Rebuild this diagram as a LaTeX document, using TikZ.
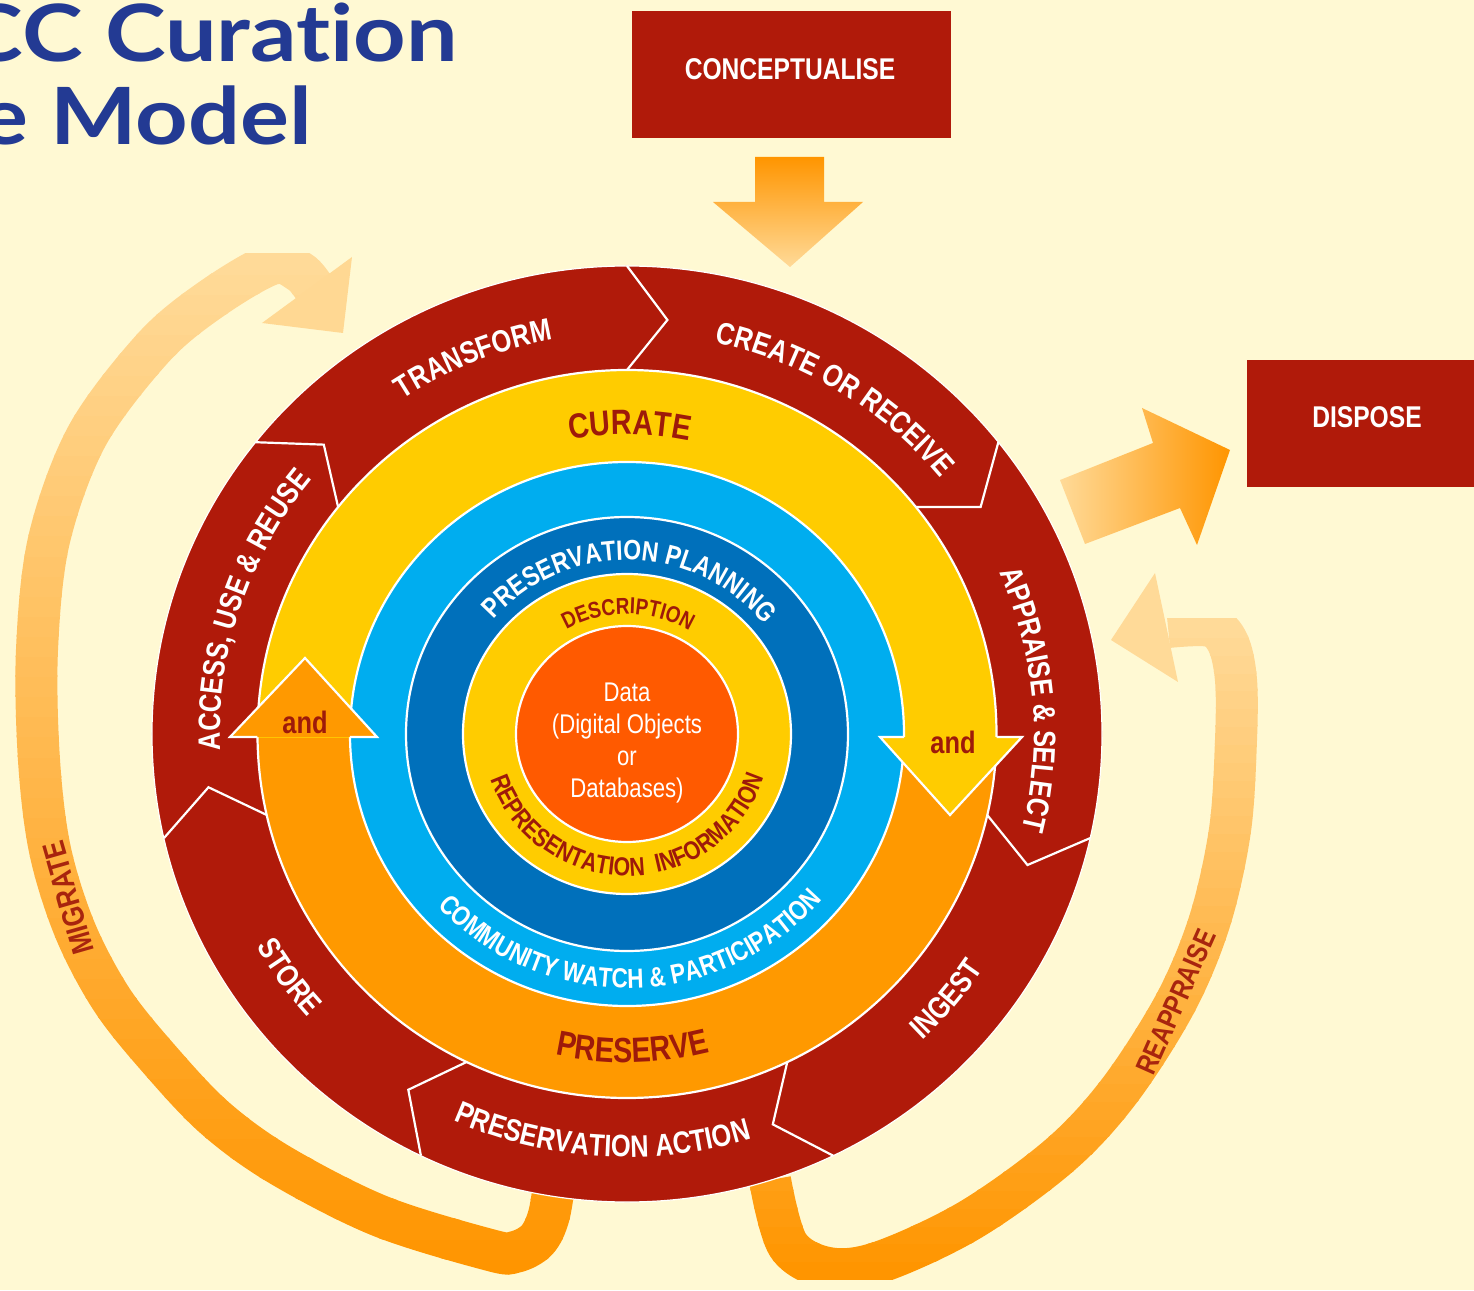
\documentclass[tikz,border=0pt]{standalone}
\usepackage{fontspec}
\newfontfamily\cond{Liberation Sans}[FakeStretch=0.82]
\newfontfamily\titlef{Lato}[FakeStretch=1.16,Ligatures={NoCommon,NoRare}]
\usetikzlibrary{decorations.text}
\definecolor{bg}{HTML}{FFF9D3}
\definecolor{dred}{HTML}{B01A0A}
\definecolor{yel}{HTML}{FFCC00}
\definecolor{org}{HTML}{FF9900}
\definecolor{lblue}{HTML}{00ADEF}
\definecolor{dblue}{HTML}{0070BB}
\definecolor{dataorg}{HTML}{FF5A00}
\definecolor{txtred}{HTML}{9E1A0A}
\definecolor{navy}{HTML}{233A93}
\definecolor{borange}{HTML}{FF9500}
\definecolor{bpale}{HTML}{FFDA98}
\definecolor{bandtxt}{HTML}{A8250E}
\newcommand\lblfont{\cond\bfseries\fontsize{31}{31}\selectfont}
\newcommand\curfont{\cond\bfseries\fontsize{35}{35}\selectfont}
\newcommand\ppfont{\cond\bfseries\fontsize{28}{28}\selectfont}
\newcommand\cwfont{\cond\bfseries\fontsize{27.5}{27.5}\selectfont}
\newcommand\descfont{\cond\bfseries\fontsize{23}{23}\selectfont}
\newcommand\repfont{\cond\bfseries\fontsize{26}{26}\selectfont}
\newcommand\ringtext[7]{%
  \path[decorate,decoration={text along path,text align=center,text color=#2,
    text={|#1|#7}}] (#5:#3 and #4) arc[start angle=#5,end angle=#6,x radius=#3,y radius=#4];}
% vertical-gradient thick band: #1 ymin, #2 ymax, #3 steps, #4 coordinates
\newcommand\gradband[4]{%
  \pgfmathsetmacro\gbstep{((#2)-(#1))/((#3)+1)}%
  \foreach \s in {0,...,#3} {%
    \pgfmathsetmacro\gya{(#1)+\gbstep*\s-0.6}%
    \pgfmathsetmacro\gyb{(#1)+\gbstep*(\s+1)+0.6}%
    \pgfmathsetmacro\gpc{(\s/(#3))*100}%
    \begin{scope}
      \clip (-900,\gya) rectangle (900,\gyb);
      \draw[line width=42, color={bpale!\gpc!borange}] plot[smooth,tension=0.55] coordinates {#4};
    \end{scope}
  }}
\tikzset{
  boxnode/.style={fill=dred, inner sep=0},
  boxtxt/.style={text=white, inner sep=0, font=\cond\bfseries\fontsize{30}{30}\selectfont},
  andtxt/.style={text=txtred, inner sep=0, font=\cond\bfseries\fontsize{31}{31}\selectfont},
  bandlbl/.style={text=bandtxt, inner sep=0},
  wline/.style={draw=white, line width=2.2}
}
\begin{document}
\begin{tikzpicture}[x=1pt,y=1pt]
\useasboundingbox (-627,-556) rectangle (847,734);
\fill[bg] (-627,-556) rectangle (847,734);

% title
\node[anchor=base east, inner sep=0, text=navy, font=\titlef\bfseries\fontsize{79}{79}\selectfont] (title1) at (-169,672) {CC Curation};
\node[anchor=base east, inner sep=0, text=navy, font=\titlef\bfseries\fontsize{79}{79}\selectfont] (title2) at (-315,589) {e Model};

% boxes
\node[boxnode, minimum width=319, minimum height=127] (concept) at (164.5,659.5) {};
\node[boxtxt] (concepttxt) at (163,665) {CONCEPTUALISE};
\node[boxnode, minimum width=240, minimum height=127] (dispose) at (740,310.5) {};
\node[boxtxt] (disposetxt) at (740,317) {DISPOSE};

% straight arrows
\shade[top color=borange, bottom color=bpale] (128,577) -- (197,577) -- (197,532) -- (236,532) -- (163,467) -- (86,532) -- (128,532) -- cycle;
\shade[left color=bpale, right color=borange] (433,254) -- (526,291) -- (515,326) -- (603,284) -- (570,189) -- (553,226) -- (458,190) -- cycle;

% migrate band
\gradband{-545}{480}{50}{(-71,-436) (-78,-481) (-90,-506) (-112,-518) (-137,-516) (-247,-482) (-347,-431)
 (-412,-384) (-467,-326) (-515,-266) (-552,-196) (-577,-116) (-588,-26) (-590,84) (-578,194) (-540,298) (-474,386)
 (-417,434) (-355,470) (-327,462) (-313,446)}
\fill[bpale!97!borange] (-275,477) -- (-284,401) -- (-365,411) -- cycle;
% reappraise band
\gradband{-545}{115}{36}{(143,-446) (161,-511) (201,-534) (253,-528) (343,-486) (433,-421) (493,-356)
 (549,-268) (583,-186) (603,-96) (609,-6) (609,54) (601,91) (583,108) (541,107)}
\fill[bpale] (484,94) -- (528,161) -- (551,52) -- cycle;

\node[bandlbl, rotate=106, font=\cond\bfseries\fontsize{31}{31}\selectfont] (migrate) at (-559,-164) {MIGRATE};
\node[bandlbl, rotate=66, font=\cond\bfseries\fontsize{29}{29}\selectfont] (reappraise) at (549,-268) {REAPPRAISE};

% outer red ring
\fill[dred] (0,0) ellipse [x radius=475, y radius=468];
\draw[white, line width=1.2] (0,0) ellipse [x radius=475, y radius=468];
\foreach \i in {0,...,6} {
  \pgfmathsetmacro\ba{90-51.4286*\i}
  \draw[wline, line join=miter] (\ba:475 and 468) -- ({\ba-5.5}:422 and 416) -- (\ba:369.5 and 364);
}
% curate / preserve ring
\fill[org] (0,0) ellipse [x radius=369.5, y radius=364];
\begin{scope}
\clip (-400,-3) rectangle (400,400);
\fill[yel] (0,0) ellipse [x radius=369.5, y radius=364];
\end{scope}
\draw[wline] (0,0) ellipse [x radius=369.5, y radius=364];
\path[wline, fill=lblue] (0,0) ellipse [x radius=277, y radius=272];
\path[wline, fill=dblue] (0,0) ellipse [x radius=221, y radius=217];
\path[wline, fill=yel] (0,0) ellipse [x radius=164, y radius=160];
\path[wline, fill=dataorg] (0,0) ellipse [x radius=111, y radius=108];

% arrowheads "and"
\fill[yel] (253,-3) -- (323,-81) -- (395,-3) -- cycle;
\draw[wline, line join=miter] (277,-3) -- (253,-3) -- (323,-81) -- (395,-3) -- (369.5,-3);
\fill[org] (-397,-3) -- (-322,76) -- (-250,-3) -- cycle;
\draw[wline, line join=miter] (-369.5,-3) -- (-397,-3) -- (-322,76) -- (-250,-3) -- (-277,-3);
\node[andtxt] (andr) at (326,-8) {and};
\node[andtxt] (andl) at (-322,12) {and};

% red ring labels
\ringtext{\lblfont}{white}{407}{401}{142}{82}{TRANSFORM}
\ringtext{\lblfont}{white}{407}{401}{90}{27}{CREATE OR RECEIVE}
\ringtext{\lblfont}{white}{407}{401}{35}{-25}{APPRAISE {\&} SELECT}
\ringtext{\lblfont}{white}{407}{401}{195}{128}{ACCESS, USE {\&} REUSE}
\ringtext{\lblfont}{white}{429}{423}{-70}{-10}{INGEST}
\ringtext{\lblfont}{white}{429}{423}{-125}{-62}{PRESERVATION ACTION}
\ringtext{\lblfont}{white}{429}{423}{186}{246}{STORE}
% inner labels
\ringtext{\curfont}{txtred}{304}{299.5}{120}{59}{CURATE}
\ringtext{\curfont}{txtred}{333.5}{328.5}{-120}{-58}{PRESERVE}
\ringtext{\ppfont}{white}{176.6}{174}{155}{23}{PRESERVATION PLANNING}
\ringtext{\cwfont}{white}{258}{254}{-160}{-18}{COMMUNITY WATCH {\&} PARTICIPATION}
\ringtext{\descfont}{txtred}{122}{120}{140}{39}{DESCRIPTION}
\ringtext{\repfont}{txtred}{144}{142}{-178}{-1}{REPRESENTATION {\kern6pt}INFORMATION}

\node[align=center, text=white, inner sep=0, font=\cond\fontsize{27}{32}\selectfont] (data) at (0,-9) {Data\\(Digital Objects\\or\\Databases)};
\end{tikzpicture}
\end{document}
